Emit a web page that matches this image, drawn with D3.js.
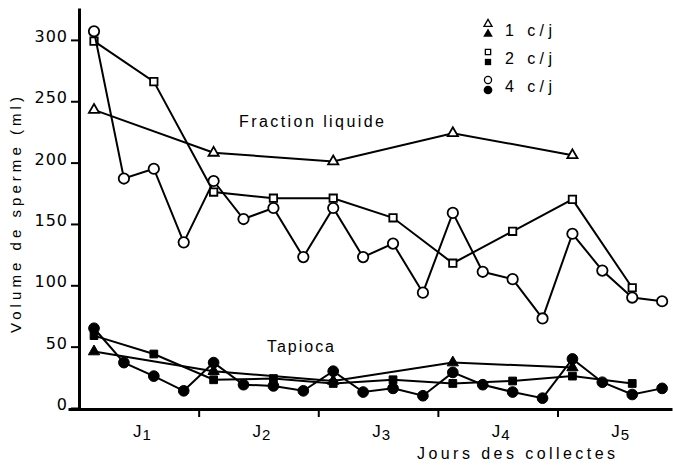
<!DOCTYPE html>
<html>
<head>
<meta charset="utf-8">
<script src="https://cdn.jsdelivr.net/npm/d3@7"></script>
<style>
  body { margin: 0; background: #fff; }
  text { font-family: "Liberation Sans", Arial, sans-serif; fill: #000; }
</style>
</head>
<body>
<div id="chart"></div>
<script>
// chart values
const IDX_1 = [0, 4, 8, 12, 16];
const IDX_2 = [0, 2, 4, 6, 8, 10, 12, 14, 16, 18];
const IDX_4 = [0, 1, 2, 3, 4, 5, 6, 7, 8, 9, 10, 11, 12, 13, 14, 15, 16, 17, 18, 19];

const LIQUIDE_1 = [243, 208, 201, 224, 206];
const LIQUIDE_2 = [299, 266, 176, 171, 171, 155, 118, 144, 170, 98];
const LIQUIDE_4 = [307, 187, 195, 135, 185, 154, 163, 123, 163, 123,
                   134, 94, 159, 111, 105, 73, 142, 112, 90, 87];

const TAPIOCA_1 = [46, 30, 22, 37, 33];
const TAPIOCA_2 = [59, 44, 23, 24, 20, 23, 20, 22, 26, 20];
const TAPIOCA_4 = [65, 37, 26, 14, 37, 19, 18, 14, 30, 13,
                   16, 10, 29, 19, 13, 8, 40, 21, 11, 16];

const Y_TICKS = [0, 50, 100, 150, 200, 250, 300];
const DAY_BOUNDS = [3.5, 7.5, 11.5, 15.5];
const DAYS = ["1", "2", "3", "4", "5"];
const DAY_CENTERS = [1.5, 5.5, 9.5, 13.5, 17.5];
const LEGEND = ["1 c/j", "2 c/j", "4 c/j"];
const SHAPES = [d3.symbolTriangle, d3.symbolSquare, d3.symbolCircle];

// frame
const FRAME_WIDTH = 673;
const FRAME_HEIGHT = 466;

const svg = d3.select("#chart")
  .append("svg")
    .attr("width", FRAME_WIDTH)
    .attr("height", FRAME_HEIGHT);

// scales
const X = d3.scaleLinear().domain([-0.87, 19.33]).range([68, 672]);
const Y = d3.scaleLinear().domain([0, 326]).range([408, 8]);

// y axis
const yAxis = svg.append("g")
  .attr("transform", "translate(79,0)")
  .call(d3.axisLeft(Y).tickValues(Y_TICKS).tickSizeInner(8).tickSizeOuter(0).tickPadding(3));
yAxis.select(".domain").attr("stroke-width", 3);
yAxis.selectAll(".tick line").attr("stroke-width", 2);
yAxis.selectAll(".tick text")
  .attr("dy", "0.1em")
  .attr("font-size", 16)
  .attr("letter-spacing", 1)
  .style("font-family", "'DejaVu Sans', sans-serif");

// x axis
const xAxis = svg.append("g")
  .attr("transform", "translate(0,409)")
  .call(d3.axisBottom(X).tickValues(DAY_BOUNDS).tickSizeInner(8).tickSizeOuter(0).tickFormat(""));
xAxis.select(".domain").attr("stroke-width", 3);
xAxis.selectAll(".tick line").attr("stroke-width", 2);

// day labels
DAYS.forEach((d, i) => {
  const t = svg.append("text")
    .attr("x", X(DAY_CENTERS[i]) + 3)
    .attr("y", 437)
    .attr("text-anchor", "middle")
    .attr("font-size", 17);
  t.append("tspan").text("J");
  t.append("tspan").attr("font-size", 15).attr("dy", 3).attr("dx", 1).text(d);
});

// axis titles
svg.append("text")
  .attr("x", 417).attr("y", 459)
  .attr("font-size", 16)
  .attr("textLength", 198).attr("lengthAdjust", "spacing")
  .text("Jours des collectes");

svg.append("text")
  .attr("transform", "translate(21,215) rotate(-90)")
  .attr("text-anchor", "middle")
  .attr("font-size", 15)
  .attr("textLength", 236).attr("lengthAdjust", "spacing")
  .text("Volume de sperme (ml)");

// annotations
svg.append("text")
  .attr("x", 239).attr("y", 127)
  .attr("font-size", 16)
  .attr("textLength", 145).attr("lengthAdjust", "spacing")
  .text("Fraction liquide");

svg.append("text")
  .attr("x", 267).attr("y", 352)
  .attr("font-size", 16)
  .attr("textLength", 67).attr("lengthAdjust", "spacing")
  .text("Tapioca");

// series
function drawSeries(idx, vals, shape, filled, size) {
  const pts = idx.map((k, i) => [X(k), Y(vals[i])]);
  svg.append("path")
    .attr("d", d3.line()(pts))
    .attr("fill", "none")
    .attr("stroke", "#000")
    .attr("stroke-width", 2);
  svg.selectAll(null)
    .data(pts)
    .enter()
    .append("path")
      .attr("transform", (d) => "translate(" + d[0] + "," + d[1] + ")")
      .attr("d", d3.symbol().type(shape).size(size))
      .attr("fill", filled ? "#000" : "#fff")
      .attr("stroke", "#000")
      .attr("stroke-width", filled ? 1 : 1.8);
}

drawSeries(IDX_1, LIQUIDE_1, d3.symbolTriangle, false, 45);
drawSeries(IDX_2, LIQUIDE_2, d3.symbolSquare, false, 55);
drawSeries(IDX_4, LIQUIDE_4, d3.symbolCircle, false, 85);

drawSeries(IDX_2, TAPIOCA_2, d3.symbolSquare, true, 60);
drawSeries(IDX_1, TAPIOCA_1, d3.symbolTriangle, true, 55);
drawSeries(IDX_4, TAPIOCA_4, d3.symbolCircle, true, 90);

// legend
LEGEND.forEach((lab, i) => {
  const y0 = 28 + i * 28;
  svg.append("path")
    .attr("transform", "translate(488," + (y0 - 4) + ")")
    .attr("d", d3.symbol().type(SHAPES[i]).size(i === 2 ? 40 : 28))
    .attr("fill", "#fff").attr("stroke", "#000").attr("stroke-width", 1.3);
  svg.append("path")
    .attr("transform", "translate(488," + (y0 + 6) + ")")
    .attr("d", d3.symbol().type(SHAPES[i]).size(i === 2 ? 60 : 40))
    .attr("fill", "#000");
  svg.append("text")
    .attr("x", 505).attr("y", y0 + 8)
    .attr("font-size", 16)
    .attr("textLength", 47).attr("lengthAdjust", "spacing")
    .text(lab);
});
</script>
</body>
</html>
